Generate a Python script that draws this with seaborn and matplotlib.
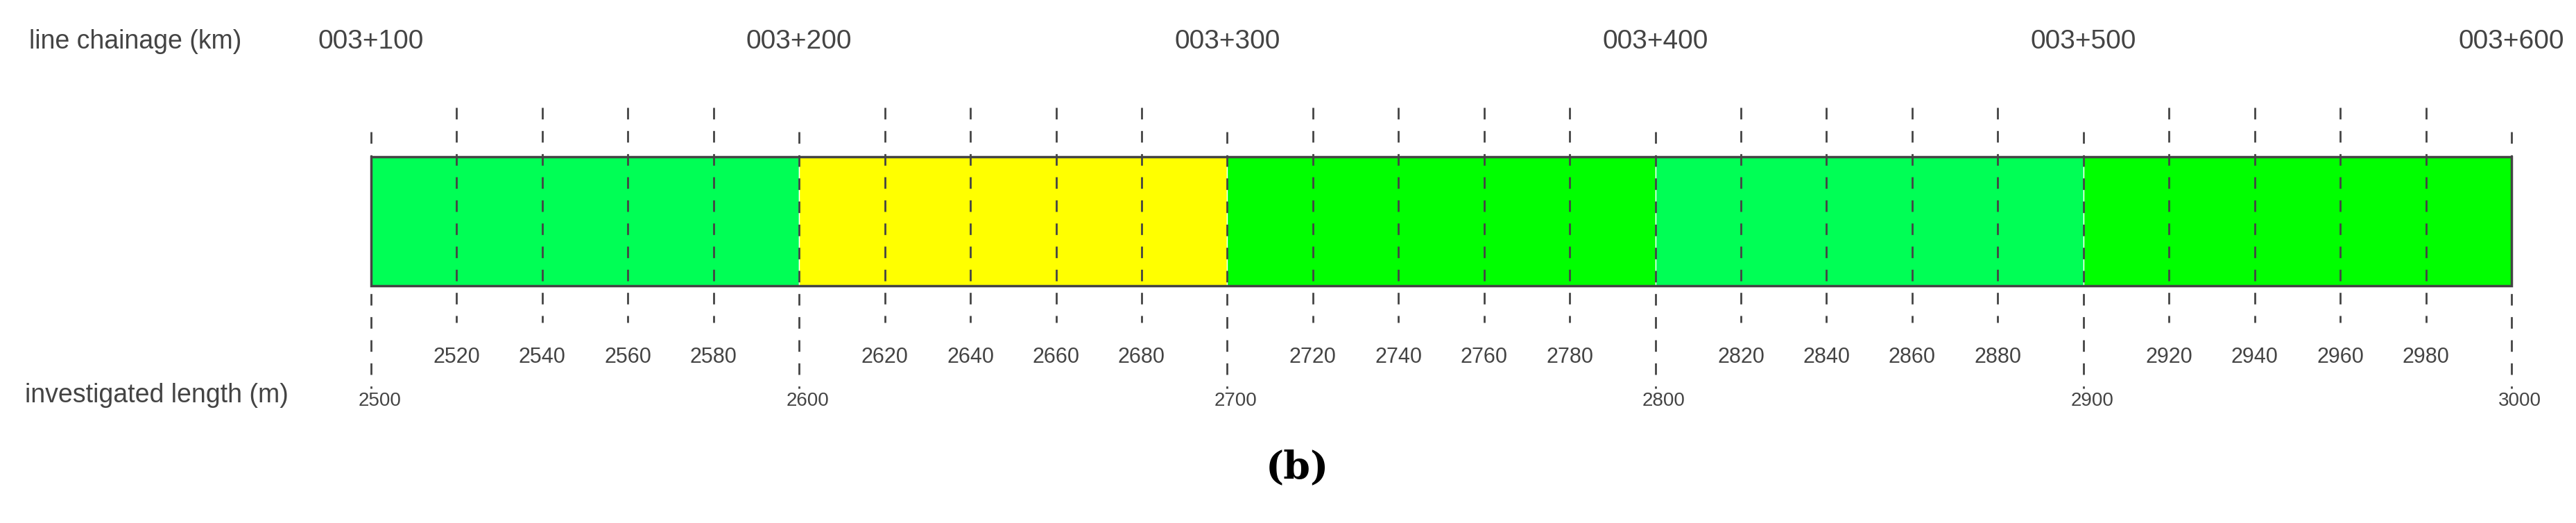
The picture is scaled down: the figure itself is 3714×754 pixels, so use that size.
import matplotlib
matplotlib.use("Agg")
import matplotlib.pyplot as plt
import seaborn as sns

# segments along the investigated length
seg_start = [2500, 2600, 2700, 2800, 2900]
seg_length = [100, 100, 100, 100, 100]
seg_color = ['#00FF55', '#FFFF00', '#00FF00', '#00FF55', '#00FF00']

major_ticks = [2500, 2600, 2700, 2800, 2900, 3000]
chainage_labels = ['003+100', '003+200', '003+300', '003+400', '003+500', '003+600']
minor_ticks = [t for t in range(2520, 3000, 20) if t % 100 != 0]

sns.set_theme(style='white')
plt.rcParams['font.family'] = ['Liberation Sans Narrow', 'Liberation Sans', 'DejaVu Sans']

W, H = 3714, 754
fig = plt.figure(figsize=(W / 100, H / 100), dpi=100)
ax = fig.add_axes([0, 0, 1, 1])
x0_px, x1_px = 535, 3621
scale = (x1_px - x0_px) / 500
ax.set_xlim(2500 - x0_px / scale, 3000 + (W - x1_px) / scale)
ax.set_ylim(H, 0)
ax.axis('off')

grey = '#444444'
ax.barh([319] * len(seg_start), seg_length, left=seg_start, height=186,
        color=seg_color, align='center', zorder=1)
ax.barh([319], [500], left=[2500], height=186, fill=False,
        edgecolor=grey, linewidth=2.5, zorder=3)

ax.vlines(major_ticks, 190, 560, colors=grey, linestyles=(0, (6, 6)), linewidth=2, zorder=2)
ax.vlines(minor_ticks, 155, 465, colors=grey, linestyles=(0, (6, 6)), linewidth=2, zorder=2)

for t, lab in zip(major_ticks, chainage_labels):
    ax.text(t, 60, lab, ha='center', va='center', fontsize=28, color=grey)
    ax.text(t + 2, 578, str(t), ha='center', va='center', fontsize=20, color=grey)
for t in minor_ticks:
    ax.text(t, 515, str(t), ha='center', va='center', fontsize=22, color=grey)

fig.text(42 / W, 1 - 60 / H, 'line chainage (km)', ha='left', va='center', fontsize=27, color=grey)
fig.text(36 / W, 1 - 570 / H, 'investigated length (m)', ha='left', va='center', fontsize=27, color=grey)
fig.text(1870 / W, 1 - 675 / H, '(b)', ha='center', va='center', fontsize=40,
         fontweight='bold', family=['DejaVu Serif', 'Liberation Serif'], color='black')

fig.savefig('out.png', dpi=100)
